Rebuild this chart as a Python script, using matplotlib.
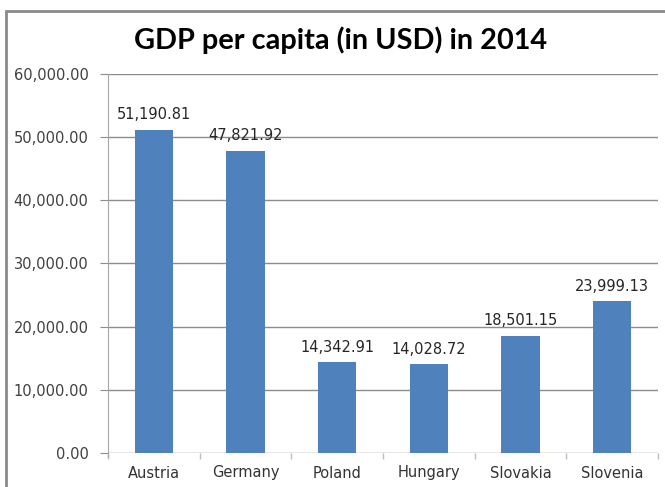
import numpy as np
import matplotlib.pyplot as plt
from matplotlib.patches import Rectangle
from matplotlib.ticker import FuncFormatter, FixedLocator

countries = ['Austria', 'Germany', 'Poland', 'Hungary', 'Slovakia', 'Slovenia']
gdp_per_capita = [51190.81, 47821.92, 14342.91, 14028.72, 18501.15, 23999.13]
y_ticks = [0, 10000, 20000, 30000, 40000, 50000, 60000]

bar_color = '#4F81BD'
grid_color = '#8C8C8C'

fig = plt.figure(figsize=(6.65, 4.87), dpi=100)

# chart frame, runs off the right and bottom edges
fig.patches.append(Rectangle((6 / 665, -0.1), 1.2, 1.1 - 11 / 487,
                             transform=fig.transFigure, fill=False,
                             edgecolor='#8A8A8A', linewidth=2))

ax = fig.add_axes([108 / 665, 1 - 453 / 487, 550 / 665, 379 / 487])

x = np.arange(len(countries))
ax.bar(x, gdp_per_capita, width=0.42, color=bar_color, zorder=3)

ax.set_xlim(-0.5, len(countries) - 0.5)
ax.set_ylim(0, 60000)
ax.set_yticks(y_ticks)
ax.yaxis.set_major_formatter(FuncFormatter(lambda v, p: f'{v:,.2f}'))
ax.yaxis.grid(True, color=grid_color, linewidth=1)
ax.set_axisbelow(True)

ax.set_xticks(x)
ax.set_xticklabels(countries)
ax.xaxis.set_minor_locator(FixedLocator(np.arange(-0.5, len(countries), 1)))
ax.tick_params(axis='x', which='major', length=0, pad=9, labelsize=10.5, labelcolor='#333333')
ax.tick_params(axis='x', which='minor', length=4, color='#BFBFBF', width=1)
ax.tick_params(axis='y', length=6, color=grid_color, labelsize=10.5, labelcolor='#404040', pad=8)

for side in ['top', 'right', 'bottom']:
    ax.spines[side].set_visible(False)
ax.spines['left'].set_color('#A6A6A6')
ax.spines['left'].set_bounds(-700, 60000)

for xi, v in zip(x, gdp_per_capita):
    ax.text(xi, v + 2400, f'{v:,.2f}', ha='center', va='center',
            fontsize=10.5, color='#262626', zorder=4)

fig.text(341 / 665, 1 - 40 / 487, 'GDP per capita (in USD) in 2014',
         ha='center', va='center', fontsize=20.8, fontweight='bold',
         family='Lato', color='black')

fig.savefig('out.png', dpi=100)
